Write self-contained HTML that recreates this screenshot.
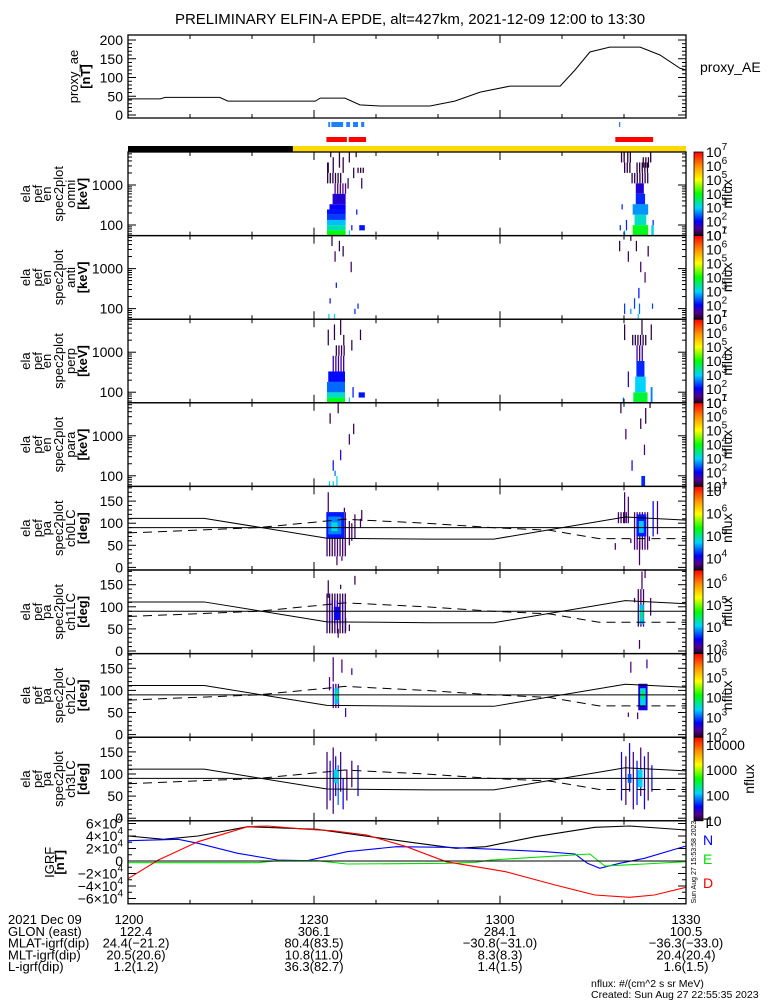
<!DOCTYPE html>
<html><head><meta charset="utf-8"><style>
html,body{margin:0;padding:0;background:#fff;}
svg{display:block;font-family:"Liberation Sans",sans-serif;}
</style></head><body>
<svg id="c" xmlns="http://www.w3.org/2000/svg" width="775" height="1000" viewBox="0 0 775 1000">
<rect x="0" y="0" width="775" height="1000" fill="#fff"/>
<text x="410" y="24" font-size="15" text-anchor="middle">PRELIMINARY ELFIN-A EPDE, alt=427km, 2021-12-09 12:00 to 13:30</text>
</svg>
<script>
// ---------- data ----------
const aeTimes = [0,5.2,6,14.8,16.1,18.9,30.2,31,35,37.4,40.6,48.7,52.7,56.8,61.6,69.7,72.1,74.5,77.7,82.6,85.8,89,90];
const aeValues = [43,43,47,47,37,37,37,45,45,27,24,24,37,61,77,77,120,168,181,181,160,125,120];
const paTimesSolid = [0,12.3,32.1,48.5,59,80.2,90];
const paSolid = [111,111,66,64,64,114,107];
const paTimesDash = [0,21,35,48,58.7,68,76,90];
const paDash = [78,90,109,100,90,84,65,65];
const igrfTimesT = [0.1,5.7,11.3,19.3,30.5,44.9,52.9,57.7,65.7,75.3,80.9,90];
const igrfT = [40000,34700,40000,54900,50700,30900,20300,22900,38900,53900,56000,49600];
const igrfTimesN = [0.1,8.1,11.3,17.7,24.1,28.9,35.3,43.3,51.3,59.3,67.3,72.1,74.1,76.1,79.3,83.3,90];
const igrfN = [32500,34700,28300,12300,1600,500,14900,22900,21900,18700,14900,11200,-3700,-11700,-3700,4300,24000];
const igrfTimesD = [0.1,4.9,11.3,19.3,22.5,28.9,32.9,38.5,44.9,51.3,60.9,68.9,75.3,80.9,84.9,90];
const igrfD = [-27700,1600,30900,54900,56000,50700,48500,41600,22900,-1100,-17100,-38400,-54400,-58100,-54400,-42100];
const igrfTimesE = [0.1,20.9,24.1,30.5,35.3,51.3,56.1,58.5,67.3,74.5,76.9,83.3,90];
const igrfE = [-2700,-2700,500,500,-4800,-3700,-2100,1600,6900,11200,-8000,-4800,-1100];
// spectrogram cells: [tStart, tEnd, binLow, binHigh, log10 flux]
const omniCells = [
[32.1,35.1,0,0,4.0],[32.1,35.1,1,1,3.3],[32.1,35.1,2,2,2.9],[32.1,35.1,3,3,2.3],[32.1,35.1,4,4,2.1],
[32.5,35.1,5,5,2.0],[33.0,35.1,6,7,1.8],[33.3,35.1,8,9,1.45],[32.1,34.6,10,11,1.15],[32.1,32.4,12,13,1.15],
[33.0,33.4,12,14,1.15],[34.0,34.4,13,15,1.15],[34.6,35.0,12,14,1.2],[32.6,32.8,15,15,1.2],
[35.6,35.8,0,0,3.1],[36.0,36.2,1,1,2.1],[37.3,38.2,1,1,2.1],[35.4,35.6,9,10,1.2],[36.3,36.5,11,12,1.15],
[37.0,38.2,12,12,1.15],[37.6,37.8,9,10,1.3],[36.8,37.0,4,4,2.1],[35.6,35.8,14,15,1.15],[36.7,36.9,15,15,1.15],
[81.4,83.9,0,1,3.9],[81.7,83.6,2,3,3.2],[81.4,83.9,4,5,2.7],[81.9,83.4,6,7,2.2],[81.9,83.2,8,9,1.8],
[81.2,83.9,10,11,1.2],[80.0,81.0,12,13,1.15],[82.0,84.0,12,13,1.15],[83.0,84.2,13,14,1.1],[79.5,80.0,14,15,1.15],
[80.5,81.0,14,15,1.15],[84.2,84.6,14,15,1.15],[79.3,79.5,1,1,2.2],[80.3,80.5,1,2,2.2],[84.4,84.8,0,1,3.1],
[84.6,84.8,2,2,2.2],[80.0,80.2,0,0,3.0],[79.6,79.8,5,5,2.2]
];
const antiCells = [
[32.8,33.0,14,15,1.15],[33.3,33.5,11,12,1.3],[34.0,34.2,13,14,1.15],[33.5,33.7,6,6,2.1],[32.5,32.7,3,3,2.1],
[32.3,32.5,0,0,3.0],[33.2,33.4,0,0,3.0],[35.9,36.1,9,10,1.3],[37.0,37.2,2,2,2.2],[34.6,34.8,12,13,1.15],[36.5,36.7,1,1,2.2],
[79.2,79.4,13,14,1.15],[80.6,80.8,11,12,1.3],[81.9,82.1,13,14,1.15],[82.6,82.8,9,10,1.3],[83.3,83.5,7,8,1.4],
[82.3,82.5,4,5,2.1],[81.6,81.8,2,3,2.3],[82.4,82.6,1,2,2.5],[80.0,80.2,1,2,2.3],[81.0,81.2,1,1,2.7],
[82.2,82.4,0,0,3.0],[84.5,84.7,2,2,2.3],[83.8,84.0,12,13,1.15],[81.0,81.2,15,15,1.15]
];
const perpCells = [
[32.1,35.0,0,0,3.9],[32.1,35.0,1,1,3.2],[32.1,35.0,2,3,2.5],[32.3,35.0,4,5,2.05],[33.0,35.0,6,8,1.6],
[33.5,35.0,9,10,1.25],[32.2,32.4,11,13,1.15],[33.2,33.4,12,14,1.15],[34.2,34.4,13,15,1.15],[34.7,34.9,11,12,1.15],
[35.6,35.8,0,0,3.0],[36.2,36.4,1,2,2.1],[37.2,38.2,1,1,2.1],[36.0,36.2,10,11,1.2],[37.4,37.6,12,13,1.15],
[81.5,83.8,0,1,3.8],[81.8,83.5,2,4,3.0],[82.0,83.3,5,7,2.2],[82.0,83.0,8,10,1.6],[81.3,83.8,11,12,1.15],
[80.0,80.2,12,14,1.15],[82.8,83.0,13,15,1.15],[84.3,84.5,12,14,1.15],[80.6,80.8,3,5,1.8],[84.3,84.6,0,2,2.6],[79.8,80.0,0,0,2.6]
];
const paraCells = [
[32.4,32.6,0,0,3.0],[33.0,33.2,0,0,3.0],[33.6,33.8,0,1,3.0],[33.0,33.2,3,4,2.1],[34.2,34.4,5,6,1.8],
[32.5,32.7,12,13,1.15],[33.8,34.0,14,15,1.15],[36.3,36.5,10,11,1.2],[35.6,35.8,8,9,1.3],[33.3,33.5,2,2,2.5],
[79.4,79.6,14,15,1.15],[80.2,80.4,9,10,1.3],[82.6,82.8,11,12,1.15],[83.2,83.4,6,7,1.4],[83.4,83.6,12,14,1.15],
[82.8,83.4,0,1,2.2],[81.2,81.4,3,4,1.8],[84.1,84.3,15,15,1.15]
];
// pitch-angle cells: [tStart, tEnd, paLow, paHigh, log10 flux]
const ch0Cells = [
[32.0,35.0,25,125,3.7],[32.0,34.9,65,125,4.2],[32.3,34.4,75,115,4.5],[32.8,33.8,82,102,4.8],
[32.2,32.4,125,170,3.7],[33.6,33.8,5,25,3.7],[34.4,34.6,15,25,3.7],[34.8,35.0,125,135,3.7],
[35.6,35.8,50,105,3.7],[36.0,36.2,60,100,3.7],[36.5,36.7,65,120,3.7],[37.4,37.6,90,110,3.7],[37.6,37.8,105,130,3.7],
[79.0,80.6,100,125,3.7],[80.0,80.2,100,170,3.7],[81.6,84.0,40,125,3.75],[82.0,83.6,70,120,4.2],
[82.4,83.2,78,105,4.7],[82.4,82.6,5,60,3.7],[84.6,84.8,70,150,4.1],[80.6,80.8,100,160,3.7],
[85.3,85.5,75,150,3.7],[81.0,81.2,55,65,3.7],[78.5,78.7,40,55,3.7],[84.0,84.2,60,70,3.7]
];
const ch1Cells = [
[32.0,35.0,40,130,2.95],[32.4,34.6,60,115,3.2],[33.2,34.2,70,100,3.4],[32.2,32.4,120,160,2.95],
[33.8,34.0,30,50,2.95],[34.2,34.4,140,150,2.95],[35.0,35.2,45,75,2.95],[36.5,36.7,150,170,2.95],[35.6,35.8,45,60,2.95],
[82.2,83.4,55,140,3.0],[82.5,83.2,60,105,4.0],[82.7,83.0,72,95,4.5],[81.6,81.8,110,120,3.0],[84.2,84.4,80,120,3.0],
[82.4,82.6,5,25,3.0],[82.8,83.0,140,180,3.0],[83.3,83.5,165,185,3.0]
];
const ch2Cells = [
[33.0,34.0,60,115,2.4],[33.3,34.0,70,105,3.3],[33.5,33.9,80,100,3.7],[33.0,33.2,120,175,2.3],
[34.4,34.6,140,170,2.3],[35.0,35.2,40,60,2.3],[32.4,32.6,100,130,2.3],[36.0,36.2,135,150,2.3],
[82.3,83.8,55,115,2.6],[82.6,83.5,65,105,3.4],[82.8,83.3,80,100,3.9],[81.0,81.2,140,165,2.3],
[82.1,82.3,35,50,2.3],[80.6,80.8,40,50,2.3],[83.6,83.8,150,170,2.3]
];
const ch3Cells = [
[32.0,32.2,20,150,1.2],[32.5,32.7,40,130,1.5],[33.0,33.2,10,160,1.2],[33.4,33.6,50,140,1.5],
[33.8,34.0,30,120,1.8],[34.2,34.4,60,150,1.2],[34.6,34.8,20,90,1.5],[35.2,35.4,40,110,1.2],
[36.0,36.2,70,130,1.2],[37.0,37.2,50,120,1.5],[33.2,34.0,80,110,2.1],
[79.5,79.7,40,150,1.5],[80.2,80.4,30,140,1.2],[80.8,81.0,60,170,1.5],[81.4,81.6,20,150,1.2],
[82.0,82.2,30,130,1.6],[82.6,82.8,50,160,1.2],[83.2,83.4,20,140,1.5],[83.8,84.0,40,150,1.2],
[84.4,84.6,60,120,1.6],[82.2,83.0,70,110,2.1],[80.6,81.2,80,100,1.8]
];
const bottomRows = [
 ["2021 Dec 09","1200","1230","1300","1330"],
 ["GLON (east)","122.4","306.1","284.1","100.5"],
 ["MLAT-igrf(dip)","24.4(\u221221.2)","80.4(83.5)","\u221230.8(\u221231.0)","\u221236.3(\u221233.0)"],
 ["MLT-igrf(dip)","20.5(20.6)","10.8(11.0)","8.3(8.3)","20.4(20.4)"],
 ["L-igrf(dip)","1.2(1.2)","36.3(82.7)","1.4(1.5)","1.6(1.5)"]
];
// ---------- helpers ----------
const svg = document.getElementById('c');
const NS = 'http://www.w3.org/2000/svg';
const L = 128, R = 686, H = 83.6;
const X = t => L + t * (R - L) / 90;
function mk(tag, attrs, parent) {
  const e = document.createElementNS(NS, tag);
  for (const k in attrs) e.setAttribute(k, attrs[k]);
  (parent || svg).appendChild(e);
  return e;
}
const stops = [[0,'#1a0022'],[0.08,'#52008e'],[0.17,'#0000ff'],[0.33,'#00d2ff'],[0.5,'#00ff00'],[0.67,'#ffff00'],[0.83,'#ff9000'],[1,'#ff0000']];
function hex(h){return [parseInt(h.substr(1,2),16),parseInt(h.substr(3,2),16),parseInt(h.substr(5,2),16)];}
function cmap(f) {
  f = Math.max(0, Math.min(1, f));
  for (let i = 1; i < stops.length; i++) {
    if (f <= stops[i][0]) {
      const a = hex(stops[i-1][1]), b = hex(stops[i][1]);
      const u = (f - stops[i-1][0]) / (stops[i][0] - stops[i-1][0]);
      return 'rgb(' + a.map((v,j)=>Math.round(v + (b[j]-v)*u)).join(',') + ')';
    }
  }
  return stops[stops.length-1][1];
}
const defs = mk('defs', {});
const grad = mk('linearGradient', {id:'cg', x1:0, y1:1, x2:0, y2:0}, defs);
stops.forEach(s => mk('stop', {offset:s[0], 'stop-color':s[1]}, grad));

// draw a block of cells; faint (low-flux) blocks are drawn as sparse stripes like the original
function drawCell(t0, t1, y0, y1, f, name) {
  if (f < 0.13 && t1 - t0 > 0.3) {
    for (let t = t0; t < t1 - 0.05; t += 0.42) {
      const r = mk('rect', {x:X(t), y:y0, width:1.3, height:y1-y0, fill:cmap(f)});
      
      
    }
  } else {
    const r = mk('rect', {x:X(t0), y:y0, width:Math.max(1.2, X(t1)-X(t0)), height:y1-y0, fill:cmap(f)});
    
    
  }
}
function timeTicks(top, h, name) {
  for (let m = 0; m <= 90; m += 10) {
    const major = m % 30 === 0;
    const len = major ? 8 : 4;
    const t1 = mk('line', {x1:X(m), x2:X(m), y1:top+h, y2:top+h-len, stroke:'#000', 'stroke-width':1});
    
    
    const t2 = mk('line', {x1:X(m), x2:X(m), y1:top, y2:top+len, stroke:'#000', 'stroke-width':1});
    
    
  }
}
function frame(top, h, name) {
  const r = mk('rect', {x:L, y:top, width:R-L, height:h, fill:'none', stroke:'#000', 'stroke-width':1.3});
  
  
}
function ylab(lines, top, h, xs, name) {
  const cy = top + h / 2;
  lines.forEach((s, i) => {
    const t = mk('text', {x:xs[i], y:cy, 'font-size':13, 'text-anchor':'middle', transform:'rotate(-90 '+xs[i]+' '+cy+')'});
    if (s[0] === '[') t.setAttribute('font-weight', 'bold');
    t.textContent = s;
    
    
  });
}
function yTick(y, len, name) {
  const a = mk('line', {x1:L, x2:L+len, y1:y, y2:y, stroke:'#000', 'stroke-width':1});
  
  
  const b = mk('line', {x1:R, x2:R-len, y1:y, y2:y, stroke:'#000', 'stroke-width':1});
  
  
}
function yLabel(y, txt, name) {
  const t = mk('text', {x:123, y:y+5, 'font-size':14, 'text-anchor':'end'});
  t.textContent = txt;
  
  
}
function colorbar(top, h, lo, hi, labels, name, nfluxX) {
  const r = mk('rect', {x:694, y:top, width:9, height:h, fill:'url(#cg)', stroke:'#000', 'stroke-width':0.8});
  
  
  labels.forEach(lb => {
    const y = top + h - (lb[0] - lo) / (hi - lo) * h;
    const t = mk('text', {x:706, y:y+5, 'font-size':14});
    
    
    if (lb[1]) { t.textContent = lb[1]; }
    else {
      t.textContent = '10';
      const s = mk('tspan', {dy:-7, 'font-size':10}, t);
      s.textContent = String(lb[0]);
    }
  });
  const cy = top + h / 2;
  const n = mk('text', {x:nfluxX, y:cy, 'font-size':14, 'text-anchor':'middle', transform:'rotate(-90 '+nfluxX+' '+cy+')'});
  n.textContent = 'nflux';
  
  
}
// ---------- AE panel ----------
const aeTop = 35, aeH = 83;
const aeY = v => 115 - v * 0.375;
frame(aeTop, aeH, 'proxy-ae');
timeTicks(aeTop, aeH, 'proxy-ae');
for (let v = 0; v <= 200; v += 10) yTick(aeY(v), v % 50 === 0 ? 8 : 4, 'proxy-ae');
[0,50,100,150,200].forEach(v => yLabel(aeY(v), String(v), 'proxy-ae'));
const aeLine = mk('polyline', {points: aeTimes.map((t,i)=>X(t)+','+aeY(aeValues[i])).join(' '), fill:'none', stroke:'#000', 'stroke-width':1});


ylab(['proxy_ae','[nT]'], aeTop, aeH, [78, 90], 'proxy-ae');
const aeLeg = mk('text', {x:700, y:72, 'font-size':14});
aeLeg.textContent = 'proxy_AE';


// ---------- status bars ----------
const blueSegs = [[32.3,32.6],[32.8,34.7],[35.2,35.8],[36.3,37.1],[37.6,38.1],[79.2,79.4]];
blueSegs.forEach(s => {
  const r = mk('rect', {x:X(s[0]), y:122, width:X(s[1])-X(s[0]), height:5, fill:'#1e7fff'});
  
  
});
[[32.0,35.3],[35.6,38.4],[78.6,84.7]].forEach(s => {
  const r = mk('rect', {x:X(s[0]), y:137, width:X(s[1])-X(s[0]), height:5, fill:'#ff0000'});
  
  
});
const bk = mk('rect', {x:L, y:146, width:X(26.6)-L, height:6, fill:'#000'});


const yl = mk('rect', {x:X(26.6), y:146, width:R-X(26.6), height:6, fill:'#ffd800'});


// ---------- spectrogram panels ----------
const specPanels = [
  {top:152, cells:omniCells, name:'omni', lines:['ela','pef','en','spec2plot','omni','[keV]']},
  {top:235.6, cells:antiCells, name:'anti', lines:['ela','pef','en','spec2plot','anti','[keV]']},
  {top:319.2, cells:perpCells, name:'perp', lines:['ela','pef','en','spec2plot','perp','[keV]']},
  {top:402.8, cells:paraCells, name:'para', lines:['ela','pef','en','spec2plot','para','[keV]']}
];
const binH = H / 16;
specPanels.forEach(p => {
  p.cells.forEach(c => {
    drawCell(c[0], c[1], p.top + H - (c[3]+1)*binH, p.top + H - c[2]*binH, (c[4]-1)/6, p.name + '-spectrogram-cell');
  });
  frame(p.top, H, p.name);
  timeTicks(p.top, H, p.name);
  const eY = e => p.top + 33 - 40 * Math.log10(e / 1000);
  for (const base of [10, 100, 1000]) for (let k = 1; k <= 9; k++) {
    const e = base * k, y = eY(e);
    if (y > p.top && y < p.top + H) yTick(y, k === 1 ? 8 : 4, p.name);
  }
  yLabel(eY(1000), '1000', p.name);
  yLabel(eY(100), '100', p.name);
  ylab(p.lines, p.top, H, [30, 42, 51, 63, 75, 87], p.name);
  colorbar(p.top, H, 1, 7, [[1],[2],[3],[4],[5],[6],[7]], p.name, 732);
});
// ---------- pitch angle panels ----------
const paPanels = [
  {top:486.4, cells:ch0Cells, name:'ch0LC', lo:3.5, hi:7.2, labs:[[4],[5],[6],[7]]},
  {top:570, cells:ch1Cells, name:'ch1LC', lo:2.8, hi:6.6, labs:[[3],[4],[5],[6]]},
  {top:653.6, cells:ch2Cells, name:'ch2LC', lo:2, hi:6.2, labs:[[2],[3],[4],[5],[6]]},
  {top:737.2, cells:ch3Cells, name:'ch3LC', lo:1, hi:4.3, labs:[[1,'10'],[2,'100'],[3,'1000'],[4,'10000']]}
];
paPanels.forEach(p => {
  const pY = d => p.top + 81 - d * 0.442;
  p.cells.forEach(c => {
    drawCell(c[0], c[1], pY(c[3]), pY(c[2]), (c[4]-p.lo)/(p.hi-p.lo), p.name + '-pitch-cell');
  });
  const s = mk('polyline', {points: paTimesSolid.map((t,i)=>X(t)+','+pY(paSolid[i])).join(' '), fill:'none', stroke:'#000', 'stroke-width':1});
  
  
  const d = mk('polyline', {points: paTimesDash.map((t,i)=>X(t)+','+pY(paDash[i])).join(' '), fill:'none', stroke:'#000', 'stroke-width':1, 'stroke-dasharray':'9,6'});
  
  
  const n = mk('line', {x1:L, x2:R, y1:pY(90), y2:pY(90), stroke:'#000', 'stroke-width':1});
  
  
  frame(p.top, H, p.name);
  timeTicks(p.top, H, p.name);
  for (let v = 0; v <= 180; v += 10) yTick(pY(v), v % 50 === 0 ? 8 : 4, p.name);
  [0,50,100,150].forEach(v => yLabel(pY(v), String(v), p.name));
  ylab(['ela','pef','pa','spec2plot',p.name,'[deg]'], p.top, H, [30, 42, 51, 63, 75, 87], p.name);
  colorbar(p.top, H, p.lo, p.hi, p.labs, p.name, p.name === 'ch3LC' ? 754 : 732);
});
// ---------- IGRF panel ----------
const gTop = 820.8, gH = 83;
const gY = v => 861 - v * 37.5 / 60000;
[[igrfTimesT, igrfT, '#000', 'igrf-total-line'], [igrfTimesN, igrfN, '#0000ff', 'igrf-north-line'],
 [igrfTimesE, igrfE, '#00e000', 'igrf-east-line'], [igrfTimesD, igrfD, '#ff0000', 'igrf-down-line']].forEach(s => {
  const pl = mk('polyline', {points: s[0].map((t,i)=>X(t)+','+gY(s[1][i])).join(' '), fill:'none', stroke:s[2], 'stroke-width':1.1});
  
  
});
const z = mk('line', {x1:L, x2:R, y1:gY(0), y2:gY(0), stroke:'#000', 'stroke-width':1});


frame(gTop, gH, 'igrf');
timeTicks(gTop, gH, 'igrf');
for (let v = -60000; v <= 60000; v += 10000) yTick(gY(v), v % 20000 === 0 ? 8 : 4, 'igrf');
[6,4,2,0,-2,-4,-6].forEach(k => {
  const y = gY(k * 10000);
  const t = mk('text', {x:123, y:y+5, 'font-size':14, 'text-anchor':'end'});
  
  
  if (k === 0) t.textContent = '0';
  else {
    t.textContent = (k < 0 ? '\u2212' : '') + Math.abs(k) + '\u00d710';
    const sp = mk('tspan', {dy:-7, 'font-size':10}, t);
    sp.textContent = '4';
  }
});
ylab(['IGRF','[nT]'], gTop, gH, [54, 64], 'igrf');
[['T','#000',828],['N','#0000ff',845],['E','#00e000',864],['D','#ff0000',888]].forEach(s => {
  const t = mk('text', {x:703, y:s[2], 'font-size':14, fill:s[1]});
  t.textContent = s[0];
  
  
});
const stamp = mk('text', {x:696, y:862, 'font-size':7, 'text-anchor':'middle', transform:'rotate(-90 696 862)'});
stamp.textContent = 'Sun Aug 27 15:53:58 2023';


// ---------- bottom annotation rows ----------
const colX = [null, 136, 314, 500, 686];
bottomRows.forEach((row, i) => {
  const y = 924 + i * 11.8;
  const lt = mk('text', {x:8, y:y, 'font-size':13});
  lt.textContent = row[0];
  
  
  for (let j = 1; j < 5; j++) {
    const t = mk('text', {x: (i === 0 && j === 1) ? 129 : colX[j], y:y, 'font-size':13, 'text-anchor':'middle'});
    t.textContent = row[j];
    
    
  }
});
const f1 = mk('text', {x:591, y:987, 'font-size':10.5});
f1.textContent = 'nflux: #/(cm^2 s sr MeV)';


const f2 = mk('text', {x:591, y:998, 'font-size':10.5});
f2.textContent = 'Created: Sun Aug 27 22:55:35 2023';


</script>
</body></html>
